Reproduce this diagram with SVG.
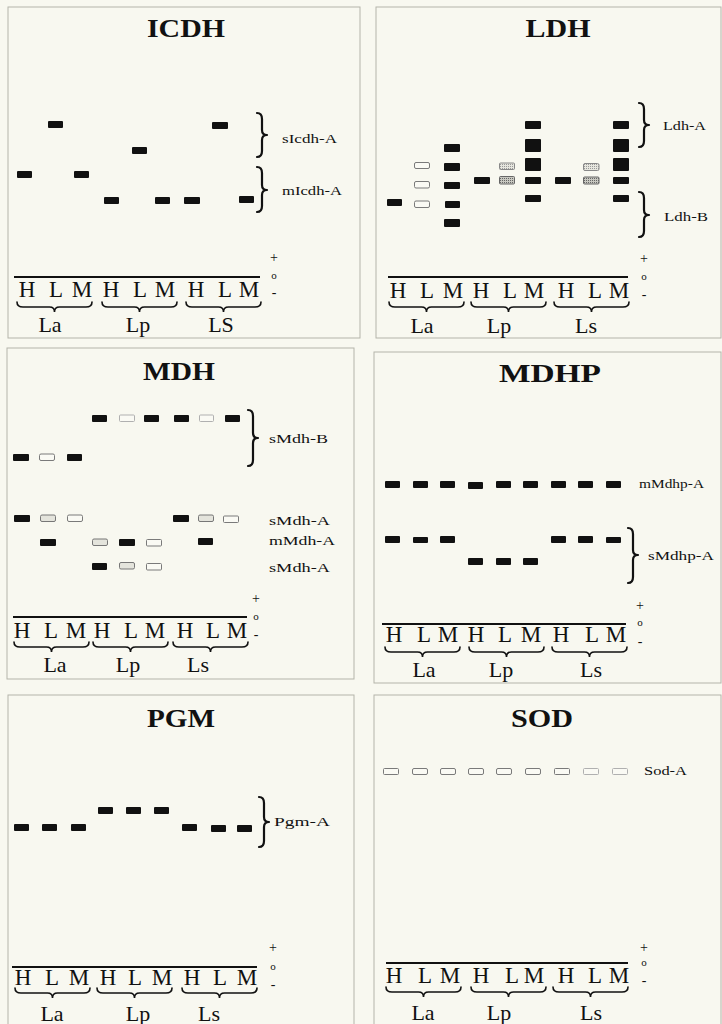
<svg xmlns="http://www.w3.org/2000/svg" xmlns:xlink="http://www.w3.org/1999/xlink" width="722" height="1024" viewBox="0 0 722 1024">
<defs>
<style>
text{font-family:"Liberation Serif","Times New Roman",serif;fill:#111}
.ttl{font-size:25px;font-weight:bold;text-anchor:middle}
.ln{font-size:23px;text-anchor:middle}
.gp{font-size:22px;text-anchor:middle}
.lb{font-size:13px}
.pm{font-size:14px;text-anchor:middle}
.po{font-size:11px;text-anchor:middle}
.frame{fill:none;stroke:#b4b4aa;stroke-width:1}
.axis{stroke:#111;stroke-width:2}
.br{fill:none;stroke:#111;stroke-width:2.2;stroke-linecap:round;stroke-linejoin:round}
.ubr{fill:none;stroke:#111;stroke-width:1.6;stroke-linecap:round}
.b{fill:#111}
.o{fill:#fafaf4;stroke:#7a7a7a;stroke-width:1}
.ol{fill:#fafaf4;stroke:#b0b0b0;stroke-width:1}
.og{fill:#e4e4dc;stroke:#777;stroke-width:1}
.s{fill:url(#stip);stroke:#666;stroke-width:1}
.sl{fill:url(#stipl);stroke:#888;stroke-width:1}
</style>
<pattern id="stip" width="2" height="2" patternUnits="userSpaceOnUse"><rect width="2" height="2" fill="#c8c8c0"/><rect width="1" height="1" fill="#666"/></pattern>
<pattern id="stipl" width="2" height="2" patternUnits="userSpaceOnUse"><rect width="2" height="2" fill="#e6e6de"/><rect width="1" height="1" fill="#999"/></pattern>
<path id="ub" d="M0 0 Q0 5 6 5 L32.5 5 Q37.5 5 37.5 10 Q37.5 5 42.5 5 L69 5 Q75 5 75 0"/>
</defs>
<rect width="722" height="1024" fill="#f8f8f0"/>

<g id="ICDH">
<rect class="frame" x="8" y="7" width="352" height="331"/>
<text class="ttl" x="186" y="37" textLength="78" lengthAdjust="spacingAndGlyphs">ICDH</text>
<g rx="1">
<rect class="b" x="48" y="121" width="15" height="7" rx="1"/>
<rect class="b" x="212" y="122" width="16" height="7" rx="1"/>
<rect class="b" x="132" y="147" width="15" height="7" rx="1"/>
<rect class="b" x="17" y="171" width="15" height="7" rx="1"/>
<rect class="b" x="74" y="171" width="15" height="7" rx="1"/>
<rect class="b" x="104" y="197" width="15" height="7" rx="1"/>
<rect class="b" x="155" y="197" width="15" height="7" rx="1"/>
<rect class="b" x="184" y="197" width="16" height="7" rx="1"/>
<rect class="b" x="239" y="196" width="15" height="7" rx="1"/>
</g>
<text class="lb" x="282" y="143" textLength="55" lengthAdjust="spacingAndGlyphs">sIcdh-A</text>
<text class="lb" x="282" y="195" textLength="60" lengthAdjust="spacingAndGlyphs">mIcdh-A</text>
<text class="pm" x="274" y="262">+</text>
<text class="po" x="274" y="279">o</text>
<text class="pm" x="274" y="297">-</text>
<line class="axis" x1="14" y1="277" x2="260" y2="277"/>
<text class="ln" x="27" y="297">H</text><text class="ln" x="56" y="297">L</text><text class="ln" x="82" y="297">M</text>
<text class="ln" x="111" y="297">H</text><text class="ln" x="140" y="297">L</text><text class="ln" x="165" y="297">M</text>
<text class="ln" x="196" y="297">H</text><text class="ln" x="225" y="297">L</text><text class="ln" x="249" y="297">M</text>
<text class="gp" x="50" y="332">La</text><text class="gp" x="138" y="332">Lp</text><text class="gp" x="221" y="332">LS</text>
</g>

<g id="LDH">
<rect class="frame" x="376" y="7" width="345" height="331"/>
<text class="ttl" x="558" y="37" textLength="65" lengthAdjust="spacingAndGlyphs">LDH</text>
<rect class="b" x="387" y="199" width="15" height="7" rx="1"/>
<rect class="o" x="414.5" y="162.5" width="15" height="6" rx="1.5"/>
<rect class="o" x="414.5" y="181.5" width="15" height="6.5" rx="1.5"/>
<rect class="o" x="414.5" y="201" width="15" height="6.5" rx="1.5"/>
<rect class="b" x="444" y="144" width="16" height="8" rx="1"/>
<rect class="b" x="444" y="163" width="16" height="8" rx="1"/>
<rect class="b" x="444" y="182" width="16" height="7" rx="1"/>
<rect class="b" x="445" y="201" width="15" height="7" rx="1"/>
<rect class="b" x="444" y="219" width="16" height="8" rx="1"/>
<rect class="b" x="474" y="177" width="16" height="7" rx="1"/>
<rect class="sl" x="499.5" y="163" width="15" height="6.5" rx="1"/>
<rect class="s" x="499.5" y="176.5" width="15" height="7.5" rx="1"/>
<rect class="b" x="525" y="121" width="16" height="8" rx="1"/>
<rect class="b" x="525" y="139" width="16" height="13" rx="1"/>
<rect class="b" x="525" y="158" width="16" height="13" rx="1"/>
<rect class="b" x="525" y="177" width="16" height="7" rx="1"/>
<rect class="b" x="525" y="195" width="16" height="7" rx="1"/>
<rect class="b" x="555" y="177" width="16" height="7" rx="1"/>
<rect class="sl" x="583.5" y="163.5" width="15.5" height="7" rx="1.5"/>
<rect class="s" x="583.5" y="177" width="15.5" height="7" rx="1"/>
<rect class="b" x="613" y="121" width="16" height="8" rx="1"/>
<rect class="b" x="613" y="139" width="16" height="13" rx="1"/>
<rect class="b" x="613" y="158" width="16" height="13" rx="1"/>
<rect class="b" x="613" y="177" width="16" height="7" rx="1"/>
<rect class="b" x="613" y="195" width="16" height="7" rx="1"/>
<text class="lb" x="663" y="130" textLength="43" lengthAdjust="spacingAndGlyphs">Ldh-A</text>
<text class="lb" x="664" y="221" textLength="44" lengthAdjust="spacingAndGlyphs">Ldh-B</text>
<text class="pm" x="644" y="263">+</text>
<text class="po" x="644" y="280">o</text>
<text class="pm" x="644" y="299">-</text>
<line class="axis" x1="388" y1="277" x2="628" y2="277"/>
<text class="ln" x="398" y="298">H</text><text class="ln" x="427" y="298">L</text><text class="ln" x="453" y="298">M</text>
<text class="ln" x="481" y="298">H</text><text class="ln" x="510" y="298">L</text><text class="ln" x="534" y="298">M</text>
<text class="ln" x="566" y="298">H</text><text class="ln" x="595" y="298">L</text><text class="ln" x="619" y="298">M</text>
<text class="gp" x="422" y="333">La</text><text class="gp" x="499" y="333">Lp</text><text class="gp" x="586" y="333">Ls</text>
</g>

<g id="MDH">
<rect class="frame" x="7" y="348" width="347" height="331"/>
<text class="ttl" x="179" y="380" textLength="72" lengthAdjust="spacingAndGlyphs">MDH</text>
<rect class="b" x="92" y="415" width="15" height="7" rx="1"/>
<rect class="ol" x="119.5" y="415" width="15" height="6.5" rx="1"/>
<rect class="b" x="144" y="415" width="15" height="7" rx="1"/>
<rect class="b" x="174" y="415" width="15" height="7" rx="1"/>
<rect class="ol" x="199.5" y="415" width="14" height="6.5" rx="1"/>
<rect class="b" x="225" y="415" width="15" height="7" rx="1"/>
<rect class="b" x="13" y="454" width="16" height="7" rx="1"/>
<rect class="o" x="39.5" y="454" width="15" height="6.5" rx="1.5"/>
<rect class="b" x="67" y="454" width="15" height="7" rx="1"/>
<rect class="b" x="14" y="515" width="16" height="7" rx="1"/>
<rect class="og" x="40.5" y="515" width="15" height="6.5" rx="1.5"/>
<rect class="o" x="67.5" y="515" width="15" height="6.5" rx="1.5"/>
<rect class="b" x="173" y="515" width="16" height="7" rx="1"/>
<rect class="og" x="198.5" y="515" width="15" height="6.5" rx="1.5"/>
<rect class="o" x="223.5" y="516" width="15" height="6.5" rx="1"/>
<rect class="b" x="40" y="539" width="16" height="7" rx="1"/>
<rect class="og" x="92.5" y="539" width="15" height="6.5" rx="1.5"/>
<rect class="b" x="119" y="539" width="16" height="7" rx="1"/>
<rect class="o" x="146.5" y="539.5" width="15" height="6.5" rx="1"/>
<rect class="b" x="198" y="538" width="15" height="7" rx="1"/>
<rect class="b" x="92" y="563" width="15" height="7" rx="1"/>
<rect class="og" x="119.5" y="562.5" width="15" height="6.5" rx="1.5"/>
<rect class="o" x="146.5" y="563.5" width="15" height="6.5" rx="1"/>
<text class="lb" x="269" y="443" textLength="59" lengthAdjust="spacingAndGlyphs">sMdh-B</text>
<text class="lb" x="269" y="525" textLength="61" lengthAdjust="spacingAndGlyphs">sMdh-A</text>
<text class="lb" x="269" y="545" textLength="66" lengthAdjust="spacingAndGlyphs">mMdh-A</text>
<text class="lb" x="269" y="572" textLength="61" lengthAdjust="spacingAndGlyphs">sMdh-A</text>
<text class="pm" x="256" y="603">+</text>
<text class="po" x="256" y="620">o</text>
<text class="pm" x="256" y="639">-</text>
<line class="axis" x1="13" y1="617" x2="247" y2="617"/>
<text class="ln" x="22" y="638">H</text><text class="ln" x="51" y="638">L</text><text class="ln" x="76" y="638">M</text>
<text class="ln" x="102" y="638">H</text><text class="ln" x="131" y="638">L</text><text class="ln" x="155" y="638">M</text>
<text class="ln" x="185" y="638">H</text><text class="ln" x="213" y="638">L</text><text class="ln" x="237" y="638">M</text>
<text class="gp" x="55" y="672">La</text><text class="gp" x="128" y="672">Lp</text><text class="gp" x="198" y="672">Ls</text>
</g>

<g id="MDHP">
<rect class="frame" x="374" y="352" width="347" height="331"/>
<text class="ttl" x="550" y="382" textLength="102" lengthAdjust="spacingAndGlyphs">MDHP</text>
<rect class="b" x="385" y="481" width="15" height="7" rx="1"/>
<rect class="b" x="413" y="481" width="15" height="7" rx="1"/>
<rect class="b" x="440" y="481" width="15" height="7" rx="1"/>
<rect class="b" x="468" y="482" width="15" height="7" rx="1"/>
<rect class="b" x="496" y="481" width="15" height="7" rx="1"/>
<rect class="b" x="523" y="481" width="15" height="7" rx="1"/>
<rect class="b" x="551" y="481" width="15" height="7" rx="1"/>
<rect class="b" x="578" y="481" width="15" height="7" rx="1"/>
<rect class="b" x="606" y="481" width="15" height="7" rx="1"/>
<rect class="b" x="385" y="536" width="15" height="7" rx="1"/>
<rect class="b" x="413" y="537" width="15" height="6" rx="1"/>
<rect class="b" x="440" y="536" width="15" height="7" rx="1"/>
<rect class="b" x="468" y="558" width="15" height="7" rx="1"/>
<rect class="b" x="496" y="558" width="15" height="7" rx="1"/>
<rect class="b" x="523" y="558" width="15" height="7" rx="1"/>
<rect class="b" x="551" y="536" width="15" height="7" rx="1"/>
<rect class="b" x="578" y="536" width="15" height="7" rx="1"/>
<rect class="b" x="606" y="537" width="15" height="6" rx="1"/>
<text class="lb" x="639" y="488" textLength="65" lengthAdjust="spacingAndGlyphs">mMdhp-A</text>
<text class="lb" x="648" y="560" textLength="66" lengthAdjust="spacingAndGlyphs">sMdhp-A</text>
<text class="pm" x="640" y="610">+</text>
<text class="po" x="640" y="626">o</text>
<text class="pm" x="640" y="646">-</text>
<line class="axis" x1="382" y1="624" x2="626" y2="624"/>
<text class="ln" x="394" y="642">H</text><text class="ln" x="424" y="642">L</text><text class="ln" x="448" y="642">M</text>
<text class="ln" x="476" y="642">H</text><text class="ln" x="505" y="642">L</text><text class="ln" x="531" y="642">M</text>
<text class="ln" x="561" y="642">H</text><text class="ln" x="592" y="642">L</text><text class="ln" x="616" y="642">M</text>
<text class="gp" x="424" y="677">La</text><text class="gp" x="501" y="677">Lp</text><text class="gp" x="591" y="677">Ls</text>
</g>

<g id="PGM">
<rect class="frame" x="8" y="695" width="346" height="335"/>
<text class="ttl" x="181" y="727" textLength="68" lengthAdjust="spacingAndGlyphs">PGM</text>
<rect class="b" x="98" y="807" width="15" height="7" rx="1"/>
<rect class="b" x="126" y="807" width="15" height="7" rx="1"/>
<rect class="b" x="154" y="807" width="15" height="7" rx="1"/>
<rect class="b" x="14" y="824" width="15" height="7" rx="1"/>
<rect class="b" x="42" y="824" width="15" height="7" rx="1"/>
<rect class="b" x="71" y="824" width="15" height="7" rx="1"/>
<rect class="b" x="182" y="824" width="15" height="7" rx="1"/>
<rect class="b" x="211" y="825" width="15" height="7" rx="1"/>
<rect class="b" x="237" y="825" width="15" height="7" rx="1"/>
<text class="lb" x="274" y="826" textLength="56" lengthAdjust="spacingAndGlyphs">Pgm-A</text>
<text class="pm" x="273" y="952">+</text>
<text class="po" x="273" y="970">o</text>
<text class="pm" x="273" y="989">-</text>
<line class="axis" x1="12" y1="967" x2="257" y2="967"/>
<text class="ln" x="23" y="985">H</text><text class="ln" x="52" y="985">L</text><text class="ln" x="79" y="985">M</text>
<text class="ln" x="108" y="985">H</text><text class="ln" x="135" y="985">L</text><text class="ln" x="162" y="985">M</text>
<text class="ln" x="192" y="985">H</text><text class="ln" x="220" y="985">L</text><text class="ln" x="247" y="985">M</text>
<text class="gp" x="52" y="1021">La</text><text class="gp" x="138" y="1021">Lp</text><text class="gp" x="209" y="1021">Ls</text>
</g>

<g id="SOD">
<rect class="frame" x="374" y="695" width="347" height="335"/>
<text class="ttl" x="542" y="727" textLength="62" lengthAdjust="spacingAndGlyphs">SOD</text>
<rect class="o" x="383.5" y="768.5" width="15" height="6" rx="1"/>
<rect class="o" x="412.5" y="768.5" width="15" height="6" rx="1.5"/>
<rect class="o" x="440.5" y="768.5" width="15" height="6" rx="1.5"/>
<rect class="o" x="468.5" y="768.5" width="15" height="6" rx="1.5"/>
<rect class="o" x="496.5" y="768.5" width="15" height="6" rx="1.5"/>
<rect class="o" x="525.5" y="768.5" width="15" height="6" rx="1.5"/>
<rect class="o" x="554.5" y="768.5" width="15" height="6" rx="1"/>
<rect class="ol" x="583.5" y="768.5" width="15" height="6" rx="1"/>
<rect class="ol" x="612.5" y="768.5" width="15" height="6" rx="1"/>
<text class="lb" x="644" y="775" textLength="43" lengthAdjust="spacingAndGlyphs">Sod-A</text>
<text class="pm" x="644" y="952">+</text>
<text class="po" x="644" y="966">o</text>
<text class="pm" x="644" y="985">-</text>
<line class="axis" x1="386" y1="963" x2="628" y2="963"/>
<text class="ln" x="394" y="983">H</text><text class="ln" x="425" y="983">L</text><text class="ln" x="450" y="983">M</text>
<text class="ln" x="481" y="983">H</text><text class="ln" x="512" y="983">L</text><text class="ln" x="534" y="983">M</text>
<text class="ln" x="566" y="983">H</text><text class="ln" x="595" y="983">L</text><text class="ln" x="619" y="983">M</text>
<text class="gp" x="423" y="1020">La</text><text class="gp" x="499" y="1020">Lp</text><text class="gp" x="591" y="1020">Ls</text>
</g>

<g id="connectors">
<path class="br" d="M257 113 Q262 113 262 119 L262 130 Q262 135 267 135 Q262 135 262 140 L262 151 Q262 157 257 157"/>
<path class="br" d="M257 167 Q262 167 262 173 L262 185 Q262 190 267 190 Q262 190 262 195 L262 206 Q262 212 257 212"/>
<path class="br" d="M639 103 Q644 103 644 109 L644 120 Q644 125 649 125 Q644 125 644 130 L644 141 Q644 147 639 147"/>
<path class="br" d="M639 192 Q644 192 644 198 L644 210 Q644 215 649 215 Q644 215 644 220 L644 231 Q644 237 639 237"/>
<path class="br" d="M248 410 Q253 410 253 416 L253 433 Q253 438 258 438 Q253 438 253 443 L253 460 Q253 466 248 466"/>
<path class="br" d="M628 528 Q633 528 633 534 L633 550 Q633 555 638 555 Q633 555 633 560 L633 577 Q633 583 628 583"/>
<path class="br" d="M259 797 Q264 797 264 803 L264 817 Q264 822 269 822 Q264 822 264 827 L264 841 Q264 847 259 847"/>
<use class="ubr" xlink:href="#ub" href="#ub" x="17" y="302"/>
<use class="ubr" xlink:href="#ub" href="#ub" x="102" y="302"/>
<use class="ubr" xlink:href="#ub" href="#ub" x="186" y="302"/>
<use class="ubr" xlink:href="#ub" href="#ub" x="389" y="302"/>
<use class="ubr" xlink:href="#ub" href="#ub" x="471" y="302"/>
<use class="ubr" xlink:href="#ub" href="#ub" x="554" y="302"/>
<use class="ubr" xlink:href="#ub" href="#ub" x="14" y="642"/>
<use class="ubr" xlink:href="#ub" href="#ub" x="93" y="642"/>
<use class="ubr" xlink:href="#ub" href="#ub" x="173" y="642"/>
<use class="ubr" xlink:href="#ub" href="#ub" x="385" y="647"/>
<use class="ubr" xlink:href="#ub" href="#ub" x="469" y="647"/>
<use class="ubr" xlink:href="#ub" href="#ub" x="552" y="647"/>
<use class="ubr" xlink:href="#ub" href="#ub" x="15" y="988"/>
<use class="ubr" xlink:href="#ub" href="#ub" x="97" y="988"/>
<use class="ubr" xlink:href="#ub" href="#ub" x="182" y="988"/>
<use class="ubr" xlink:href="#ub" href="#ub" x="386" y="987"/>
<use class="ubr" xlink:href="#ub" href="#ub" x="471" y="987"/>
<use class="ubr" xlink:href="#ub" href="#ub" x="553" y="987"/>
</g>
</svg>
